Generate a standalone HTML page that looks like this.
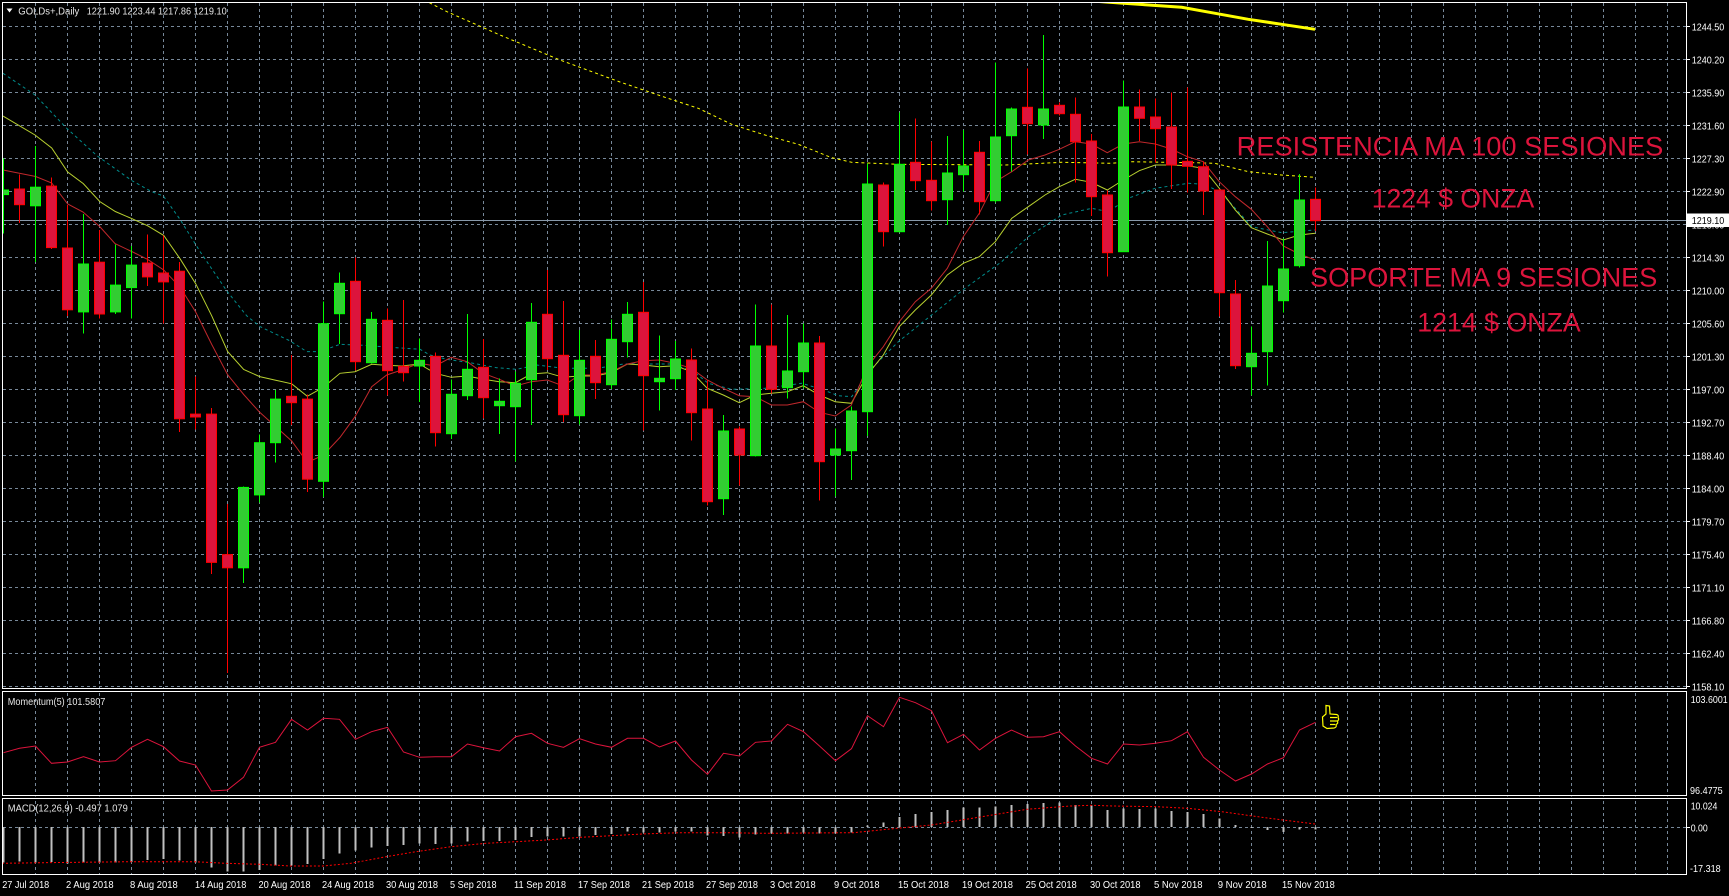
<!DOCTYPE html>
<html><head><meta charset="utf-8"><style>
html,body{margin:0;padding:0;background:#000;}
svg{display:block;}
text{font-family:"Liberation Sans",Arial,sans-serif;}
.b{fill:#32cd32;stroke:#00ff00;stroke-width:1;}
.r{fill:#dc143c;stroke:#ff0000;stroke-width:1;}
.ax{fill:#ffffff;font-size:10.5px;}
.dt{fill:#ffffff;font-size:10.5px;}
.ann{fill:#dc143c;font-size:26.5px;}
</style></head><body>
<svg width="1729" height="896" viewBox="0 0 1729 896" xmlns="http://www.w3.org/2000/svg">
<defs>
<clipPath id="cm"><rect x="3" y="3" width="1683" height="685"/></clipPath>
<clipPath id="cmo"><rect x="3" y="692" width="1683" height="103"/></clipPath>
<clipPath id="cmd"><rect x="3" y="799" width="1683" height="75"/></clipPath>
</defs>
<rect width="1729" height="896" fill="#000"/>

<!-- grid -->
<g stroke="#778899" stroke-width="1" stroke-dasharray="3,3" fill="none" shape-rendering="crispEdges">
<path d="M3 26.5H1686M3 59.5H1686M3 92.5H1686M3 125.5H1686M3 158.5H1686M3 191.5H1686M3 224.5H1686M3 257.5H1686M3 290.5H1686M3 323.5H1686M3 356.5H1686M3 389.5H1686M3 422.5H1686M3 455.5H1686M3 488.5H1686M3 521.5H1686M3 554.5H1686M3 587.5H1686M3 620.5H1686M3 653.5H1686M3 686.5H1686"/>
<path d="M35.5 3V875M67.5 3V875M99.5 3V875M131.5 3V875M163.5 3V875M195.5 3V875M227.5 3V875M259.5 3V875M291.5 3V875M323.5 3V875M355.5 3V875M387.5 3V875M419.5 3V875M451.5 3V875M483.5 3V875M515.5 3V875M547.5 3V875M579.5 3V875M611.5 3V875M643.5 3V875M675.5 3V875M707.5 3V875M739.5 3V875M771.5 3V875M803.5 3V875M835.5 3V875M867.5 3V875M899.5 3V875M931.5 3V875M963.5 3V875M995.5 3V875M1027.5 3V875M1059.5 3V875M1091.5 3V875M1123.5 3V875M1155.5 3V875M1187.5 3V875M1219.5 3V875M1251.5 3V875M1283.5 3V875M1315.5 3V875M1347.5 3V875M1379.5 3V875M1411.5 3V875M1443.5 3V875M1475.5 3V875M1507.5 3V875M1539.5 3V875M1571.5 3V875M1603.5 3V875M1635.5 3V875M1667.5 3V875"/>
<path d="M3 827.5H1686"/>
</g>
<rect x="0" y="689" width="1729" height="2" fill="#000"/>
<rect x="0" y="796.5" width="1729" height="1.5" fill="#000"/>

<!-- main chart content -->
<g clip-path="url(#cm)">
<path d="M3 220.5H1686" stroke="#8899aa" stroke-width="1" shape-rendering="crispEdges"/>

<polyline fill="none" stroke="#ffff00" stroke-width="3" points="1095,1.2 1120,3 1145,4.7 1181.7,7.3 1211.7,12.7 1248.3,19.3 1281.7,24.3 1315,29.3"/>
<polyline fill="none" stroke="#ffff00" stroke-width="1" stroke-dasharray="3,3" points="424,0 447,11.7 500,35 560,60 620,82 665,97.3 698.3,108.3 731.7,124.3 765,135 798.3,144.3 831.7,157.7 851.7,162.3 898.3,164.3 1005,165 1028,164 1061.7,162.3 1111.7,163.3 1128.3,161.7 1195,162.7 1215,163.3 1248.3,171.7 1281.7,175 1315,177.3"/>
<polyline fill="none" stroke="#008b8b" stroke-width="1" stroke-dasharray="3,3" points="3,73.3 35,95 66.7,128.3 96.7,155.5 131.7,180.5 151.7,191.7 163.3,196 180,219.3 200,251.5 226.7,290.8 246.7,315.8 260,326.6 290,340.9 306.7,351.6 320,351.6 340,344.3 363,345.3 396.7,347.7 420,349.3 430,355 446.7,359.3 470,362.7 496.7,367.7 516.7,369.3 536.7,365 563.3,368.3 596.7,368.3 623.3,364 670,364 691.7,370 708.3,383.3 731.7,389.3 765,388.3 801.7,383.3 821.7,389.3 838.3,395.7 851.7,396.7 871.7,368.3 898.3,341.7 931.7,315 965,288.3 1001.7,261.7 1028.3,236.7 1061.7,215 1091.7,208.3 1108.3,211.7 1128.3,198.3 1155,188.3 1188.3,183.3 1205,184.3 1221.7,193.3 1251.7,226.7 1281.7,232.7 1315,230"/>
<polyline fill="none" stroke="#b8d030" stroke-width="1" points="3,116 35,135 51.7,148 67.7,172 83.3,183.6 99.7,201.5 115.3,211.5 131.7,218.6 147.7,225.8 163.7,235.4 180,258.7 195.7,283.7 211.7,315.8 227.7,351.6 243.7,369.5 259.7,376.6 275.7,380.2 291.7,383.8 307.3,396.3 323.3,387.3 340,373.3 355,371.7 371.7,364.3 386.7,365.3 401.7,366 419.3,364 435.3,373.3 451.3,377.3 467.3,376 483.3,379.3 499.3,381.7 515.3,382.7 531.3,374 547.3,372.7 563.3,377.3 579.3,376 595.3,376 611.3,372.7 627.3,364 643.3,365 659.3,366.7 675.3,365.7 691.3,371.7 707.3,388.3 723.3,395 739.3,402.7 755.3,395 771.3,393.3 787.3,391.7 803.3,385.7 819.3,395 835.3,401.7 851.3,403.3 867.3,375 883.3,355 899.3,326.7 915.3,310 931.3,295 947.3,275 963.3,263.3 979.3,256.7 995.3,241.7 1011.7,218.3 1028.3,206.7 1045,195 1059.3,186.7 1075.3,179.3 1091.3,182.3 1107.3,190 1123.3,180 1139.3,170.7 1155.3,165 1171.3,165 1187.3,165.7 1203.3,168.3 1219.3,188.3 1235.3,210 1251.3,227.7 1267.3,234 1283.3,240 1299.3,235 1315.3,233.3"/>
<polyline fill="none" stroke="#c0282c" stroke-width="1" points="3,170 35.7,176.5 51.7,183 67.7,204 83,212 99.7,226.5 115,243.6 131.7,251.5 147.7,259.4 163.7,270 180,287 195.7,312 211.7,344.4 227.7,374.8 243.7,394.5 259.7,412.3 275.7,426.6 291.7,441 307.3,462.4 323.3,455.2 340,437.4 355,416.7 371.7,386.7 386.7,375 401.7,370 419.3,363.3 435.3,366 451.3,357.3 467.3,361.7 483.3,373.3 499.3,379.3 515.3,386 531.3,381.7 547.3,380 563.3,386 579.3,375 595.3,375 611.3,371.7 627.3,364 643.3,360.7 659.3,360 675.3,363.3 691.3,368.3 707.3,380 723.3,388.3 739.3,395.7 755.3,396.7 771.3,405 787.3,405 803.3,401.7 819.3,412.3 835.3,416 851.3,405 867.3,366.7 883.3,346.7 899.3,321.7 915.3,301.7 931.3,288.3 947.3,268.3 963.3,236.7 979.3,213.3 995.3,181.7 1011.7,171.7 1028.3,160 1045,155 1059.3,149.3 1075.3,141.7 1091.3,144 1107.3,152.7 1123.3,144 1139.3,141.7 1155.3,144 1171.3,149 1187.3,156.7 1203.3,161.7 1219.3,181.7 1235.3,196.7 1251.3,209.3 1267.3,226.7 1283.3,246 1299.3,254 1315.3,260"/>

<path fill="none" stroke="#00ff00" stroke-width="1" shape-rendering="crispEdges" d="M3.5 158.6V233.6M35.5 146V262.2M83.5 214V333.7M115.5 244.4V314M131.5 246.2V318.7M243.5 486.3V583.2M259.5 434.5V502.4M275.5 389.8V462.4M323.5 301.5V497M339.5 272.3V344M371.5 312V363.3M419.5 338.3V402M451.5 379.3V439M467.5 314V400M499.5 378.3V434M515.5 371.7V461.7M531.5 303V425M579.5 330V424.3M611.5 319.3V389M627.5 302V357.7M659.5 335.3V410.7M675.5 341V390M723.5 415V515M755.5 304.3V456.7M787.5 315V398.3M803.5 323.3V388.3M835.5 428.3V496.7M851.5 406.7V480M867.5 163.3V436M899.5 112.7V232.3M947.5 136V225M963.5 130V191.7M995.5 62.3V202.3M1011.5 107.3V171.7M1043.5 35V139M1123.5 80.7V251.7M1251.5 326.7V395.7M1267.5 241V385.7M1283.5 238.3V312.3M1299.5 174V267.7"/>
<path fill="none" stroke="#ff0000" stroke-width="1" shape-rendering="crispEdges" d="M19.5 174.7V222.9M51.5 177.5V249M67.5 205V315.8M99.5 230V318.7M147.5 234.7V285.8M163.5 235.4V323.7M179.5 262.2V432M195.5 376.6V429.5M211.5 408V574.2M227.5 504.2V673.2M291.5 355.2V424.9M307.5 394.5V492M355.5 257.7V370.7M387.5 308.3V395.7M403.5 300V381.7M435.5 352.3V446.7M483.5 339V418.7M547.5 270V370M563.5 301V422M595.5 340V399M643.5 282V430.7M691.5 348.3V440.7M707.5 380V505.7M739.5 426.7V485.7M771.5 304.3V393.3M819.5 336V500.7M883.5 182.7V246.7M915.5 118.7V190M931.5 141.7V210.7M979.5 141V214.3M1027.5 68.3V154.3M1059.5 102.3V115.7M1075.5 97.3V182.7M1091.5 134V216M1107.5 190.7V276.7M1139.5 89.3V141M1155.5 98.3V162.3M1171.5 92.3V189M1187.5 87.7V192.7M1203.5 161.7V215M1219.5 189V316.7M1235.5 280V369M1315.5 187.3V231"/>

<g class="b">
<rect x="-1.5" y="190" width="10" height="4.6"/>
<rect x="30.5" y="187.2" width="10" height="18.6"/>
<rect x="78.5" y="264" width="10" height="47.9"/>
<rect x="110.5" y="285.1" width="10" height="26.8"/>
<rect x="126.5" y="265.1" width="10" height="22.5"/>
<rect x="238.5" y="487.4" width="10" height="80.4"/>
<rect x="254.5" y="442.7" width="10" height="52.2"/>
<rect x="270.5" y="399.1" width="10" height="43.6"/>
<rect x="318.5" y="323.7" width="10" height="157.6"/>
<rect x="334.5" y="283.3" width="10" height="30.4"/>
<rect x="366.5" y="319.3" width="10" height="43.4"/>
<rect x="414.5" y="360.3" width="10" height="5.7"/>
<rect x="446.5" y="394.3" width="10" height="39.4"/>
<rect x="462.5" y="369.3" width="10" height="26.4"/>
<rect x="494.5" y="401.3" width="10" height="4.4"/>
<rect x="510.5" y="383.3" width="10" height="23.4"/>
<rect x="526.5" y="322.3" width="10" height="57.4"/>
<rect x="574.5" y="360.3" width="10" height="55.4"/>
<rect x="606.5" y="339.3" width="10" height="45.4"/>
<rect x="622.5" y="314.3" width="10" height="27.4"/>
<rect x="654.5" y="378.3" width="10" height="3.4"/>
<rect x="670.5" y="359" width="10" height="19.7"/>
<rect x="718.5" y="431" width="10" height="67.7"/>
<rect x="750.5" y="346" width="10" height="109.7"/>
<rect x="782.5" y="371" width="10" height="16.7"/>
<rect x="798.5" y="343" width="10" height="28.7"/>
<rect x="830.5" y="449" width="10" height="6"/>
<rect x="846.5" y="411" width="10" height="39.7"/>
<rect x="862.5" y="184" width="10" height="227.7"/>
<rect x="894.5" y="164.3" width="10" height="67.4"/>
<rect x="942.5" y="173" width="10" height="26.7"/>
<rect x="958.5" y="166" width="10" height="8.7"/>
<rect x="990.5" y="137" width="10" height="63.7"/>
<rect x="1006.5" y="109" width="10" height="26.7"/>
<rect x="1038.5" y="109" width="10" height="16"/>
<rect x="1118.5" y="107" width="10" height="144.7"/>
<rect x="1246.5" y="353.3" width="10" height="13.4"/>
<rect x="1262.5" y="286" width="10" height="65.7"/>
<rect x="1278.5" y="269" width="10" height="31.7"/>
<rect x="1294.5" y="200" width="10" height="65.7"/>
</g>
<g class="r">
<rect x="14.5" y="189" width="10" height="15.7"/>
<rect x="46.5" y="186.1" width="10" height="61.5"/>
<rect x="62.5" y="248" width="10" height="61.8"/>
<rect x="94.5" y="262.2" width="10" height="51.8"/>
<rect x="142.5" y="263" width="10" height="13.9"/>
<rect x="158.5" y="273" width="10" height="8.9"/>
<rect x="174.5" y="271.2" width="10" height="147.6"/>
<rect x="190.5" y="414.1" width="10" height="2.9"/>
<rect x="206.5" y="414.1" width="10" height="148.3"/>
<rect x="222.5" y="554.6" width="10" height="13.2"/>
<rect x="286.5" y="396.3" width="10" height="6.4"/>
<rect x="302.5" y="399.1" width="10" height="80.1"/>
<rect x="350.5" y="281.3" width="10" height="80.4"/>
<rect x="382.5" y="320.3" width="10" height="50.4"/>
<rect x="398.5" y="366.3" width="10" height="6.4"/>
<rect x="430.5" y="356.3" width="10" height="76.4"/>
<rect x="478.5" y="367.3" width="10" height="30.4"/>
<rect x="542.5" y="314.3" width="10" height="44.4"/>
<rect x="558.5" y="355.3" width="10" height="59.4"/>
<rect x="590.5" y="356.3" width="10" height="26.4"/>
<rect x="638.5" y="312.3" width="10" height="63.4"/>
<rect x="686.5" y="360" width="10" height="52.7"/>
<rect x="702.5" y="409" width="10" height="92.7"/>
<rect x="734.5" y="429" width="10" height="26"/>
<rect x="766.5" y="346" width="10" height="43.3"/>
<rect x="814.5" y="343" width="10" height="118.7"/>
<rect x="878.5" y="185" width="10" height="46.7"/>
<rect x="910.5" y="162.3" width="10" height="18.4"/>
<rect x="926.5" y="180.3" width="10" height="20.4"/>
<rect x="974.5" y="152.3" width="10" height="49.4"/>
<rect x="1022.5" y="107.3" width="10" height="16.4"/>
<rect x="1054.5" y="105.3" width="10" height="8.4"/>
<rect x="1070.5" y="114.3" width="10" height="27.4"/>
<rect x="1086.5" y="141" width="10" height="55.7"/>
<rect x="1102.5" y="195" width="10" height="57.7"/>
<rect x="1134.5" y="107" width="10" height="11.3"/>
<rect x="1150.5" y="117" width="10" height="11.7"/>
<rect x="1166.5" y="127" width="10" height="38"/>
<rect x="1182.5" y="161.3" width="10" height="5"/>
<rect x="1198.5" y="166.7" width="10" height="24.3"/>
<rect x="1214.5" y="190" width="10" height="102.7"/>
<rect x="1230.5" y="294" width="10" height="71.7"/>
<rect x="1310.5" y="199.3" width="10" height="21.4"/>
</g>

<text class="ann" x="1236.7" y="155.7" textLength="426.6" lengthAdjust="spacingAndGlyphs">RESISTENCIA MA 100 SESIONES</text>
<text class="ann" x="1371.7" y="207.7" textLength="162.6" lengthAdjust="spacingAndGlyphs">1224 $ ONZA</text>
<text class="ann" x="1310" y="286.7" textLength="347.3" lengthAdjust="spacingAndGlyphs">SOPORTE MA 9 SESIONES</text>
<text class="ann" x="1417.3" y="331.7" textLength="163.4" lengthAdjust="spacingAndGlyphs">1214 $ ONZA</text>
</g>

<g clip-path="url(#cmo)">
<polyline fill="none" stroke="#dc143c" stroke-width="1" points="3.5,752.7 19.5,748.3 35.5,746 51.5,763.3 67.5,762 83.5,756.7 99.5,762 115.5,760.7 131.5,747.3 147.5,739.3 163.5,746.7 179.5,761 195.5,765 211.5,791 227.5,790 243.5,777.3 259.5,747.3 275.5,742.3 291.5,719.3 307.5,730 323.5,718.3 339.5,719.3 355.5,739.3 371.5,731.7 387.5,727.3 403.5,752 419.5,757.3 435.5,756.7 451.5,756.7 467.5,744 483.5,747.7 499.5,751 515.5,736.7 531.5,733.3 547.5,743.3 563.5,747.3 579.5,738.7 595.5,744 611.5,747.3 627.5,738.3 643.5,738.3 659.5,747 675.5,741 691.5,760 707.5,774.3 723.5,753.3 739.5,756 755.5,742.3 771.5,741 787.5,724.3 803.5,731.7 819.5,746 835.5,760.7 851.5,748.7 867.5,715.7 883.5,726.7 899.5,697.3 915.5,702.7 931.5,710.7 947.5,742.7 963.5,734.3 979.5,750 995.5,738.3 1011.5,730 1027.5,737.3 1043.5,736.7 1059.5,731.7 1075.5,746 1091.5,758.3 1107.5,764 1123.5,744 1139.5,745 1155.5,743.3 1171.5,740.7 1187.5,731.7 1203.5,757.3 1219.5,770 1235.5,781 1251.5,774 1267.5,764 1283.5,757.7 1299.5,730 1315.5,722.3"/>
<g transform="translate(1322,705)" fill="#000" stroke="#ffff00" stroke-width="1.2">
<path d="M4 0.5 L7.5 1 L8 9 L14.5 9.5 Q17 10 16 12.5 Q17.5 14.5 15.5 16 Q16.5 18.5 14 19.5 Q15 22.5 12 23 L5 23.5 L1 21 L0.5 12 L4 9 Z"/>
<path d="M8 12.5H15M8 16H15M8 19.5H13" fill="none"/>
</g>
</g>

<g clip-path="url(#cmd)">
<path fill="none" stroke="#c0c0c0" stroke-width="2" shape-rendering="crispEdges" d="M3.5 827V862.7M19.5 827V861.7M35.5 827V862.7M51.5 827V862M67.5 827V863.3M83.5 827V862.7M99.5 827V862.7M115.5 827V862.7M131.5 827V862M147.5 827V860M163.5 827V859M179.5 827V860.7M195.5 827V862.7M211.5 827V867.7M227.5 827V871.7M243.5 827V871.7M259.5 827V870M275.5 827V865.7M291.5 827V865.7M307.5 827V864M323.5 827V859M339.5 827V853.3M355.5 827V850.7M371.5 827V847.7M387.5 827V846M403.5 827V845M419.5 827V843.3M435.5 827V844M451.5 827V843.3M467.5 827V841.7M483.5 827V841M499.5 827V841M515.5 827V840M531.5 827V837M547.5 827V836.7M563.5 827V836.7M579.5 827V836.7M595.5 827V835M611.5 827V834M627.5 827V831.7M643.5 827V832.7M659.5 827V832.3M675.5 827V831.7M691.5 827V831.7M707.5 827V835.7M723.5 827V836M739.5 827V837.3M755.5 827V834.3M771.5 827V833.3M787.5 827V833.3M803.5 827V832.7M819.5 827V833.3M835.5 827V833.3M851.5 827V832.7M867.5 827V825.7M883.5 827V822.3M899.5 827V817M915.5 827V814M931.5 827V812M947.5 827V810M963.5 827V807.7M979.5 827V807.7M995.5 827V806.7M1011.5 827V805M1027.5 827V804M1043.5 827V803M1059.5 827V802.7M1075.5 827V805M1091.5 827V805.7M1107.5 827V810M1123.5 827V808.3M1139.5 827V809M1155.5 827V808.3M1171.5 827V811M1187.5 827V812M1203.5 827V814M1219.5 827V818.3M1235.5 827V825M1251.5 827V828M1267.5 827V830M1283.5 827V832M1299.5 827V829.3M1315.5 827V829.3"/>
<polyline fill="none" stroke="#ff0000" stroke-width="1" stroke-dasharray="2,2" points="2,863.3 43.4,862.7 130,861.7 195,861.7 225.5,863.3 260,864.3 290.5,866 323,866 351,863.3 386,856.7 416,851.7 451,846.7 485.7,843.3 516,841.7 546.4,840 581,837.3 611.4,835.7 641.8,834 680,832.7 723.4,832.7 766.7,833.3 853.5,832.7 896.8,828.3 931.5,825 961.9,820 992.2,815 1026.9,809.3 1070.3,806 1092,805.3 1113.6,806 1157,806.7 1187.4,808.3 1222,811.7 1252.4,816 1282.8,820 1315.3,824"/>
</g>

<g fill="none" stroke="#ffffff" stroke-width="1" shape-rendering="crispEdges">
<rect x="2.5" y="2.5" width="1684" height="686"/>
<rect x="2.5" y="691.5" width="1684" height="104"/>
<rect x="2.5" y="798.5" width="1684" height="76"/>
<path d="M1686 26.5H1690M1686 59.5H1690M1686 92.5H1690M1686 125.5H1690M1686 158.5H1690M1686 191.5H1690M1686 224.5H1690M1686 257.5H1690M1686 290.5H1690M1686 323.5H1690M1686 356.5H1690M1686 389.5H1690M1686 422.5H1690M1686 455.5H1690M1686 488.5H1690M1686 521.5H1690M1686 554.5H1690M1686 587.5H1690M1686 620.5H1690M1686 653.5H1690M1686 686.5H1690M1686 827.5H1690"/>
</g>

<path d="M6.5 8.5 L12.5 8.5 L9.5 12.5 Z" fill="#ffffff"/>
<text x="18.3" y="14.5" fill="#e6e6e6" font-size="10.5" textLength="61" lengthAdjust="spacingAndGlyphs">GOLDs+,Daily</text>
<text x="86.7" y="14.5" fill="#e6e6e6" font-size="10.5" textLength="140" lengthAdjust="spacingAndGlyphs">1221.90 1223.44 1217.86 1219.10</text>

<text x="7.8" y="705" fill="#e6e6e6" font-size="10.5" textLength="97.6" lengthAdjust="spacingAndGlyphs">Momentum(5) 101.5807</text>
<text x="7.8" y="811.3" fill="#e6e6e6" font-size="10.5" textLength="120" lengthAdjust="spacingAndGlyphs">MACD(12,26,9) -0.497 1.079</text>

<g class="ax">
<text x="1691.7" y="30.3" textLength="32.6" lengthAdjust="spacingAndGlyphs">1244.50</text>
<text x="1691.7" y="63.3" textLength="32.6" lengthAdjust="spacingAndGlyphs">1240.20</text>
<text x="1691.7" y="96.3" textLength="32.6" lengthAdjust="spacingAndGlyphs">1235.90</text>
<text x="1691.7" y="129.3" textLength="32.6" lengthAdjust="spacingAndGlyphs">1231.60</text>
<text x="1691.7" y="162.3" textLength="32.6" lengthAdjust="spacingAndGlyphs">1227.30</text>
<text x="1691.7" y="195.4" textLength="32.6" lengthAdjust="spacingAndGlyphs">1222.90</text>
<text x="1691.7" y="228.4" textLength="32.6" lengthAdjust="spacingAndGlyphs">1218.60</text>
<text x="1691.7" y="261.4" textLength="32.6" lengthAdjust="spacingAndGlyphs">1214.30</text>
<text x="1691.7" y="294.4" textLength="32.6" lengthAdjust="spacingAndGlyphs">1210.00</text>
<text x="1691.7" y="327.4" textLength="32.6" lengthAdjust="spacingAndGlyphs">1205.60</text>
<text x="1691.7" y="360.4" textLength="32.6" lengthAdjust="spacingAndGlyphs">1201.30</text>
<text x="1691.7" y="393.4" textLength="32.6" lengthAdjust="spacingAndGlyphs">1197.00</text>
<text x="1691.7" y="426.4" textLength="32.6" lengthAdjust="spacingAndGlyphs">1192.70</text>
<text x="1691.7" y="459.4" textLength="32.6" lengthAdjust="spacingAndGlyphs">1188.40</text>
<text x="1691.7" y="492.4" textLength="32.6" lengthAdjust="spacingAndGlyphs">1184.00</text>
<text x="1691.7" y="525.5" textLength="32.6" lengthAdjust="spacingAndGlyphs">1179.70</text>
<text x="1691.7" y="558.5" textLength="32.6" lengthAdjust="spacingAndGlyphs">1175.40</text>
<text x="1691.7" y="591.5" textLength="32.6" lengthAdjust="spacingAndGlyphs">1171.10</text>
<text x="1691.7" y="624.5" textLength="32.6" lengthAdjust="spacingAndGlyphs">1166.80</text>
<text x="1691.7" y="657.5" textLength="32.6" lengthAdjust="spacingAndGlyphs">1162.40</text>
<text x="1691.7" y="690.5" textLength="32.6" lengthAdjust="spacingAndGlyphs">1158.10</text>
<text x="1690.7" y="702.8" textLength="37" lengthAdjust="spacingAndGlyphs">103.6001</text>
<text x="1690" y="793.8" textLength="32.7" lengthAdjust="spacingAndGlyphs">96.4775</text>
<text x="1690.7" y="809.5" textLength="26.7" lengthAdjust="spacingAndGlyphs">10.024</text>
<text x="1690.7" y="831.5" textLength="17" lengthAdjust="spacingAndGlyphs">0.00</text>
<text x="1690" y="872.1" textLength="30.7" lengthAdjust="spacingAndGlyphs">-17.318</text>
</g>
<rect x="1687" y="213.5" width="42" height="13.5" fill="#ffffff"/>
<text x="1691.7" y="224.2" fill="#000000" font-size="10.5" textLength="32.6" lengthAdjust="spacingAndGlyphs">1219.10</text>

<g class="dt">
<text x="2.2" y="888" textLength="47" lengthAdjust="spacingAndGlyphs">27 Jul 2018</text>
<text x="66" y="888" textLength="47.6" lengthAdjust="spacingAndGlyphs">2 Aug 2018</text>
<text x="130" y="888" textLength="47.8" lengthAdjust="spacingAndGlyphs">8 Aug 2018</text>
<text x="195" y="888" textLength="51.3" lengthAdjust="spacingAndGlyphs">14 Aug 2018</text>
<text x="258.5" y="888" textLength="52" lengthAdjust="spacingAndGlyphs">20 Aug 2018</text>
<text x="322" y="888" textLength="52" lengthAdjust="spacingAndGlyphs">24 Aug 2018</text>
<text x="386" y="888" textLength="52" lengthAdjust="spacingAndGlyphs">30 Aug 2018</text>
<text x="450" y="888" textLength="46.5" lengthAdjust="spacingAndGlyphs">5 Sep 2018</text>
<text x="514" y="888" textLength="52" lengthAdjust="spacingAndGlyphs">11 Sep 2018</text>
<text x="578" y="888" textLength="52" lengthAdjust="spacingAndGlyphs">17 Sep 2018</text>
<text x="642" y="888" textLength="52" lengthAdjust="spacingAndGlyphs">21 Sep 2018</text>
<text x="706" y="888" textLength="52" lengthAdjust="spacingAndGlyphs">27 Sep 2018</text>
<text x="770" y="888" textLength="45.7" lengthAdjust="spacingAndGlyphs">3 Oct 2018</text>
<text x="834" y="888" textLength="45.5" lengthAdjust="spacingAndGlyphs">9 Oct 2018</text>
<text x="898" y="888" textLength="51" lengthAdjust="spacingAndGlyphs">15 Oct 2018</text>
<text x="962" y="888" textLength="51" lengthAdjust="spacingAndGlyphs">19 Oct 2018</text>
<text x="1025.6" y="888" textLength="51.2" lengthAdjust="spacingAndGlyphs">25 Oct 2018</text>
<text x="1090" y="888" textLength="50.5" lengthAdjust="spacingAndGlyphs">30 Oct 2018</text>
<text x="1154" y="888" textLength="48.5" lengthAdjust="spacingAndGlyphs">5 Nov 2018</text>
<text x="1217.7" y="888" textLength="49" lengthAdjust="spacingAndGlyphs">9 Nov 2018</text>
<text x="1282" y="888" textLength="52.8" lengthAdjust="spacingAndGlyphs">15 Nov 2018</text>
</g>
</svg>
</body></html>
